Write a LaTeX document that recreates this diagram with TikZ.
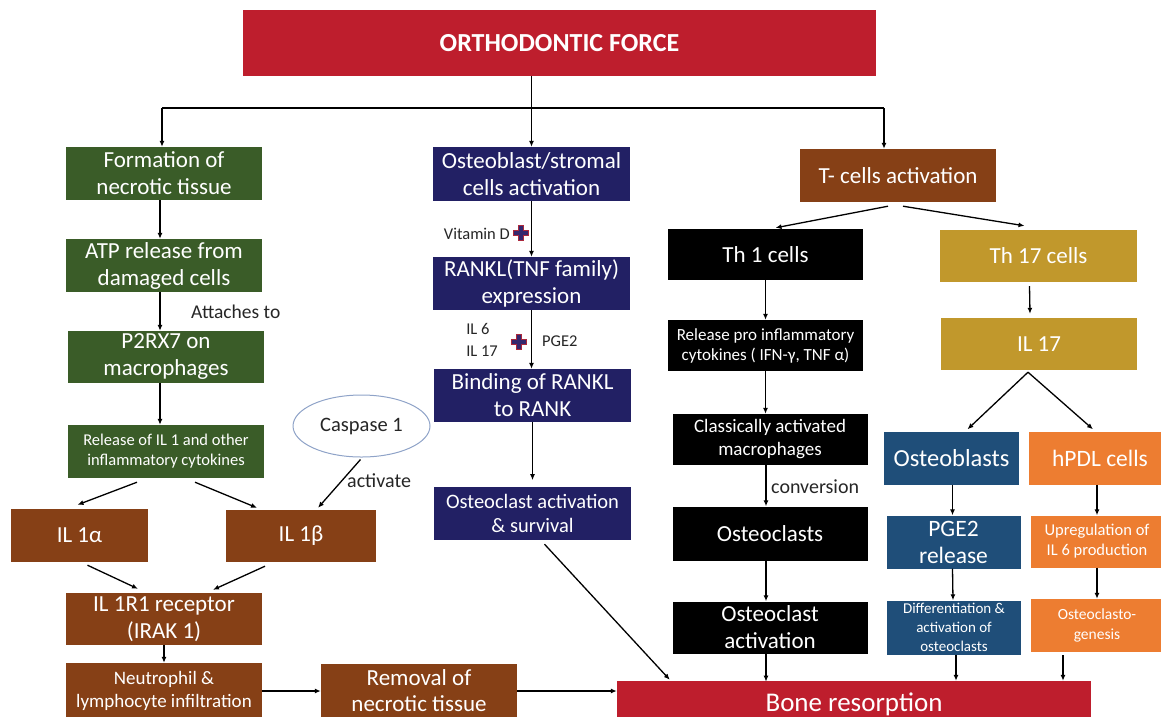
\documentclass[tikz,border=0pt]{standalone}
\usepackage{fontspec}
\setmainfont{Carlito}
\usetikzlibrary{arrows.meta,shapes.geometric,calc}
\definecolor{cred}{RGB}{190,30,45}
\definecolor{cgreen}{RGB}{58,92,40}
\definecolor{cbrown}{RGB}{134,64,22}
\definecolor{cnavy}{RGB}{34,32,100}
\definecolor{cgold}{RGB}{193,152,44}
\definecolor{cblue}{RGB}{31,78,121}
\definecolor{corange}{RGB}{237,125,49}
\definecolor{cell}{RGB}{143,163,200}
\definecolor{plusfill}{RGB}{52,40,110}
\definecolor{plusedge}{RGB}{170,40,60}
\begin{document}
\begin{tikzpicture}[x=1pt,y=-1pt,
  box/.style={rectangle, inner sep=0pt, align=center, text=white, font=\fontsize{23}{27}\selectfont},
  sbox/.style={box, font=\fontsize{16.5}{20}\selectfont},
  arr/.style={line width=1.3pt, -{Latex[length=6pt,width=5pt]}},
  ln/.style={line width=1.3pt},
  lbl/.style={font=\fontsize{20}{22}\selectfont, inner sep=0pt, text=black!85},
  slbl/.style={font=\fontsize{16.5}{22}\selectfont, inner sep=0pt, align=left, text=black!85},
  plussign/.pic={\filldraw[fill=plusfill, draw=plusedge, line width=0.5pt]
     (-2.5,-7.5) -- (2.5,-7.5) -- (2.5,-2.5) -- (7.5,-2.5) -- (7.5,2.5) -- (2.5,2.5) --
     (2.5,7.5) -- (-2.5,7.5) -- (-2.5,2.5) -- (-7.5,2.5) -- (-7.5,-2.5) -- (-2.5,-2.5) -- cycle;}
]
\useasboundingbox (0,0) rectangle (1161,716);

% top
\node[box, fill=cred, minimum width=633pt, minimum height=66pt, font=\fontsize{26}{30}\selectfont\bfseries] (force) at (559.5,43) {ORTHODONTIC FORCE};

% left column (green)
\node[box, fill=cgreen, minimum width=196pt, minimum height=53pt] (g1) at (164,173.5) {Formation of\\necrotic tissue};
\node[box, fill=cgreen, minimum width=196pt, minimum height=53pt] (g2) at (164,265.5) {ATP release from\\damaged cells};
\node[box, fill=cgreen, minimum width=196pt, minimum height=52pt] (g3) at (166,357) {P2RX7 on\\macrophages};
\node[sbox, fill=cgreen, minimum width=196pt, minimum height=53pt] (g4) at (166,451.5) {Release of IL 1 and other\\inflammatory cytokines};

% brown
\node[box, fill=cbrown, minimum width=137pt, minimum height=53pt] (b1) at (79.5,535.5) {IL 1α};
\node[box, fill=cbrown, minimum width=150pt, minimum height=52pt] (b2) at (301,536) {IL 1β};
\node[box, fill=cbrown, minimum width=196pt, minimum height=52pt] (b3) at (164,619) {IL 1R1 receptor\\(IRAK 1)};
\node[sbox, fill=cbrown, minimum width=196pt, minimum height=56pt, font=\fontsize{19}{23}\selectfont] (b4) at (164,691) {Neutrophil \&\\lymphocyte infiltration};
\node[box, fill=cbrown, minimum width=196pt, minimum height=54pt, font=\fontsize{23}{26}\selectfont] (b5) at (419,690.5) {Removal of\\necrotic tissue};
\node[ellipse, draw=cell, line width=1pt, fill=white, minimum width=137pt, minimum height=62pt, inner sep=0pt, font=\fontsize{20.5}{24}\selectfont, text=black!85] (casp) at (361.5,426) {Caspase 1};

% navy column
\node[box, fill=cnavy, minimum width=197pt, minimum height=54pt] (n1) at (531.5,174) {Osteoblast/stromal\\cells activation};
\node[box, fill=cnavy, minimum width=197pt, minimum height=53pt] (n2) at (531.5,283.5) {RANKL(TNF family)\\expression};
\node[box, fill=cnavy, minimum width=197pt, minimum height=53pt] (n3) at (532.5,395.5) {Binding of RANKL\\to RANK};
\node[sbox, fill=cnavy, minimum width=197pt, minimum height=53pt, font=\fontsize{20.5}{24}\selectfont] (n4) at (532.5,513.5) {Osteoclast activation\\\& survival};

% T cells
\node[box, fill=cbrown, minimum width=196pt, minimum height=53pt] (t) at (898,175.5) {T- cells activation};

% black column
\node[box, fill=black, minimum width=195pt, minimum height=51pt] (k1) at (765.5,254.5) {Th 1 cells};
\node[sbox, fill=black, minimum width=195pt, minimum height=51pt, font=\fontsize{17}{20}\selectfont] (k2) at (765.5,345.5) {Release pro inflammatory\\cytokines ( IFN-γ, TNF α)};
\node[sbox, fill=black, minimum width=195pt, minimum height=51pt, font=\fontsize{19}{23}\selectfont] (k3) at (770,439.5) {Classically activated\\macrophages};
\node[box, fill=black, minimum width=195pt, minimum height=54pt] (k4) at (770,533.5) {Osteoclasts};
\node[box, fill=black, minimum width=195pt, minimum height=52pt] (k5) at (770,627.5) {Osteoclast\\activation};

% gold column
\node[box, fill=cgold, minimum width=197pt, minimum height=52pt] (y1) at (1038.5,256) {Th 17 cells};
\node[box, fill=cgold, minimum width=196pt, minimum height=52pt] (y2) at (1039,344) {IL 17};

% blue column
\node[box, fill=cblue, minimum width=135pt, minimum height=53pt, font=\fontsize{24.5}{27}\selectfont] (l1) at (951.5,458) {Osteoblasts};
\node[box, fill=cblue, minimum width=134pt, minimum height=53pt, font=\fontsize{23.5}{27}\selectfont] (l2) at (953.5,542) {PGE2\\release};
\node[sbox, fill=cblue, minimum width=134pt, minimum height=54pt, font=\fontsize{15}{19}\selectfont] (l3) at (954,627.5) {Differentiation \&\\activation of\\osteoclasts};

% orange column
\node[box, fill=corange, minimum width=134pt, minimum height=53pt, font=\fontsize{23.5}{27}\selectfont] (o1) at (1096,458) {\hspace*{8pt}hPDL cells};
\node[sbox, fill=corange, minimum width=132pt, minimum height=52pt] (o2) at (1097,541.5) {Upregulation of\\IL 6 production};
\node[sbox, fill=corange, minimum width=132pt, minimum height=53pt, font=\fontsize{15.5}{20}\selectfont] (o3) at (1097,625.5) {Osteoclasto-\\genesis};

% bone resorption
\node[box, fill=cred, minimum width=474pt, minimum height=42pt, font=\fontsize{27}{30}\selectfont, text depth=0pt] (bone) at (854,702) {Bone resorption};

% top connectors
\coordinate (jl) at (162,108);
\coordinate (jr) at (884,108);
\draw[ln] (jl) -- (jr);
\draw[arr] (force.south -| n1.north) -- (n1.north);
\draw[arr] (jl) -- (jl |- g1.north);
\draw[arr] (jr) -- (jr |- t.north);

% left column arrows
\draw[arr] ($(g1.south)+(-4,0)$) -- ($(g2.north)+(-4,0)$);
\draw[arr] ($(g2.south)+(-4,0)$) -- ($(g3.north)+(-6,0)$);
\draw[arr] ($(g3.south)+(-6,0)$) -- ($(g4.north)+(-6,0)$);
\node[lbl, anchor=west, font=\fontsize{19.5}{22}\selectfont] (att) at (191,312) {Attaches to};
\draw[arr] ($(g4.south)+(-29,4)$) -- ($(b1.north)+(-2,-4)$);
\draw[arr] ($(g4.south)+(29,4)$) -- ($(b2.north)+(-44,-2)$);
\draw[arr] ($(casp.south)+(-1,2)$) -- ($(b2.north)+(17,-2)$);
\node[lbl, anchor=west] (act) at (347,481) {activate};
\draw[arr] ($(b1.south)+(8,3)$) -- ($(b3.north)+(-26,-4)$);
\draw[arr] ($(b2.south)+(-36,4)$) -- ($(b3.north)+(49,-3)$);
\draw[arr] (b3.south) -- (b4.north);
\draw[arr] (b4.east |- 0,691) -- (b5.west |- 0,691);
\draw[arr] (b5.east |- 0,691) -- (bone.west |- 0,691);

% navy arrows
\draw[arr] (n1.south) -- (n2.north);
\pic at (521,233) {plussign};
\node[slbl, anchor=east] (vitd) at (510,234) {Vitamin D};
\draw[arr] (n2.south) -- (n2.south |- n3.north);
\pic at (519,342) {plussign};
\node[slbl, anchor=east] (il6) at (498,340) {IL 6\\IL 17};
\node[slbl, anchor=west] (pge) at (542,341) {PGE2};
\draw[arr] (n3.south) -- ($(n3.south)+(0,58)$);
\draw[arr] ($(n4.south)+(12,4)$) -- ($(bone.north west)+(53,-1)$);

% T cell arrows
\draw[arr] ($(t.south)+(-10,4)$) -- ($(k1.north)+(10,-1)$);
\draw[arr] ($(t.south)+(5,4)$) -- ($(y1.north)+(-14,-4)$);

% black column
\draw[arr] (k1.south) -- (k1.south |- k2.north);
\draw[arr] (k2.south) -- (k2.south |- k3.north);
\draw[arr] ($(k3.south)+(-4,0)$) -- ($(k4.north)+(-4,0)$);
\node[lbl, anchor=west] (conv) at (771,487) {conversion};
\draw[arr] ($(k4.south)+(-4,0)$) -- ($(k5.north)+(-4,0)$);
\draw[arr] ($(k5.south)+(-4,0)$) -- ($(k5.south)+(-4,28)$);

% gold column
\draw[arr] ($(y1.south)+(-9,4)$) -- ($(y2.north)+(-9,-4)$);
\draw[arr] ($(y2.south)+(-11,2)$) -- ($(l1.north)+(16,-2)$);
\draw[arr] ($(y2.south)+(-11,2)$) -- ($(o1.north)+(-3,-2)$);

% blue & orange
\draw[arr] ($(l1.south)+(1,0)$) -- ($(l2.north)+(-1,0)$);
\draw[arr] ($(l2.south)+(-1,0)$) -- ($(l3.north)+(-1,0)$);
\draw[arr] ($(l3.south)+(2,0)$) -- (bone.north -| 956,0);
\draw[arr] ($(o1.south)+(1,0)$) -- ($(o2.north)+(0,0)$);
\draw[arr] ($(o2.south)+(0,0)$) -- ($(o3.north)+(0,0)$);
\draw[arr] ($(o3.south)+(-34,3)$) -- (bone.north -| 1063,0);
\end{tikzpicture}
\end{document}
